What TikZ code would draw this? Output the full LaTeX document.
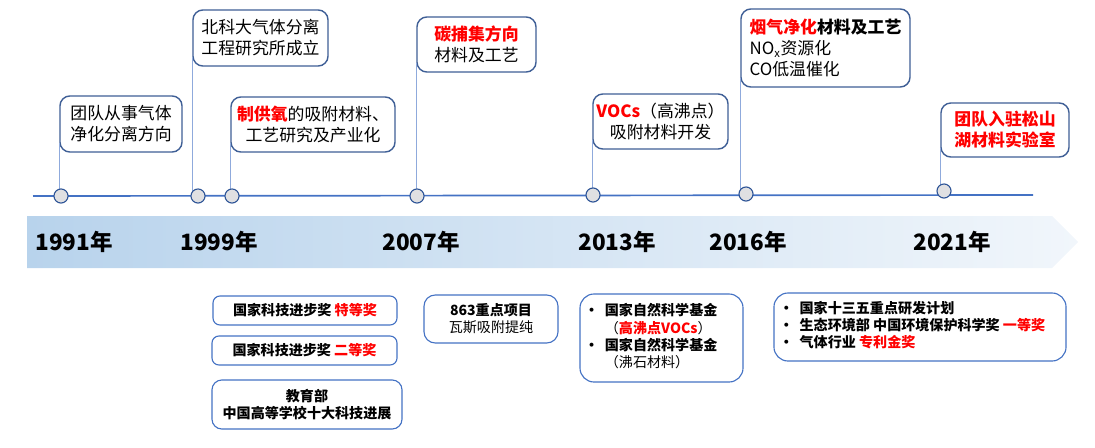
\documentclass[tikz,border=0pt]{standalone}
\usepackage{fontspec}
\setmainfont{Noto Sans CJK SC}
\definecolor{topblue}{RGB}{63,95,150}
\definecolor{lineblue}{RGB}{68,114,196}
\definecolor{stemblue}{RGB}{143,170,220}
\definecolor{dotblue}{RGB}{47,85,151}
\definecolor{dotgray}{RGB}{224,224,226}
\definecolor{bandL}{RGB}{184,211,236}
\definecolor{bandR}{RGB}{241,246,251}
\newcommand{\hot}[1]{{\color{red}\bfseries #1}}

\begin{document}
\begin{tikzpicture}[x=0.025cm,y=-0.025cm,
  topbox/.style={draw=topblue,line width=1pt,rounded corners=7pt,fill=white,inner sep=0pt,align=center,font=\fontsize{12}{15}\selectfont},
  awardbox/.style={draw=lineblue,line width=0.8pt,rounded corners=5pt,fill=white,inner sep=0pt,align=center,font=\fontsize{10}{12}\selectfont\bfseries},
  stem/.style={draw=stemblue,line width=0.6pt},
  dot/.style={circle,draw=dotblue,line width=0.8pt,fill=dotgray,minimum size=10pt,inner sep=0pt},
  year/.style={font=\fontsize{16}{18}\selectfont\bfseries}]
\useasboundingbox (0,0) rectangle (1095,447);
\shade[left color=bandL,right color=bandR] (27,216) -- (1052,216) -- (1078,242) -- (1052,268) -- (27,268) -- cycle;
\node[year] (y1991) at (74,242) {1991年};
\node[year] (y1999) at (219,242) {1999年};
\node[year] (y2007) at (421,242) {2007年};
\node[year] (y2013) at (617,242) {2013年};
\node[year] (y2016) at (748,242) {2016年};
\node[year] (y2021) at (952,242) {2021年};
\coordinate (ls) at (33,196);
\coordinate (le) at (1033,195);
\draw[lineblue,line width=1.2pt] (ls) -- (le);
\node[topbox,minimum width=3.05cm,minimum height=1.4cm] (b1) at (121,124) {团队从事气体\\净化分离方向};
\node[topbox,minimum width=3.375cm,minimum height=1.4cm] (b2) at (260.5,38) {北科大气体分离\\工程研究所成立};
\node[topbox,minimum width=4.1cm,minimum height=1.375cm] (b3) at (313,124.5) {\hot{制供氧}的吸附材料、\\工艺研究及产业化};
\node[topbox,minimum width=2.975cm,minimum height=1.375cm] (b4) at (476.5,44.5) {\hot{碳捕集方向}\\材料及工艺};
\node[topbox,minimum width=3.375cm,minimum height=1.375cm] (b5) at (660.5,121.5) {\hot{VOCs}（高沸点）\\吸附材料开发};
\node[topbox,minimum width=4.225cm,minimum height=1.95cm,align=left] (b6) at (825.5,48) {\hot{烟气净化}{\bfseries 材料及工艺}\\NO\textsubscript{x}资源化\\CO低温催化};
\node[topbox,minimum width=3.2cm,minimum height=1.35cm] (b7) at (1005,130) {\hot{团队入驻松山}\\\hot{湖材料实验室}};
\coordinate (c1) at (61,196); \coordinate (c2) at (198,196); \coordinate (c3) at (232,196); \coordinate (c4) at (417,196);
\coordinate (c5) at (593,195); \coordinate (c6) at (746,194); \coordinate (c7) at (944,191);
\foreach \i in {1,...,7}
  \draw[stem] (b\i.south west |- c\i) -- ([yshift=7pt]b\i.south west);
\foreach \i in {1,...,7}
  \node[dot] (d\i) at (c\i) {};
\node[awardbox,minimum width=4.6cm,minimum height=0.725cm] (a1) at (305,310.5) {国家科技进步奖 \hot{特等奖}};
\node[awardbox,minimum width=4.625cm,minimum height=0.725cm] (a2) at (304.5,350.5) {国家科技进步奖 \hot{二等奖}};
\node[awardbox,minimum width=4.75cm,minimum height=1.225cm,rounded corners=7pt] (a3) at (307,404.5) {教育部\\中国高等学校十大科技进展};
\node[awardbox,minimum width=3.35cm,minimum height=1.2cm,rounded corners=8pt] (a4) at (491,319) {863重点项目\\{\mdseries 瓦斯吸附提纯}};
\node[awardbox,minimum width=4.075cm,minimum height=2.2cm,rounded corners=10pt] (a5) at (661.5,338) {};
\node[anchor=west,inner sep=0pt,font=\fontsize{10}{12}\selectfont\bfseries] (a5t) at ([xshift=0.12cm]a5.west) {\begin{tabular}{@{}l@{\hspace{4.5pt}}l@{}}
  •&国家自然科学基金\\ &{\mdseries（}\hot{高沸点VOCs}{\mdseries）}\\ •&国家自然科学基金\\ &{\mdseries（沸石材料）}\end{tabular}};
\node[awardbox,minimum width=7.3cm,minimum height=1.7cm,rounded corners=10pt] (a6) at (920,327) {};
\node[anchor=west,inner sep=0pt,font=\fontsize{10}{12.4}\selectfont\bfseries] (a6t) at ([xshift=0.14cm]a6.west) {\begin{tabular}{@{}l@{\hspace{4.5pt}}l@{}}
  •&国家十三五重点研发计划\\ •&生态环境部 中国环境保护科学奖 \hot{一等奖}\\ •&气体行业 \hot{专利金奖}\end{tabular}};
\end{tikzpicture}
\end{document}
